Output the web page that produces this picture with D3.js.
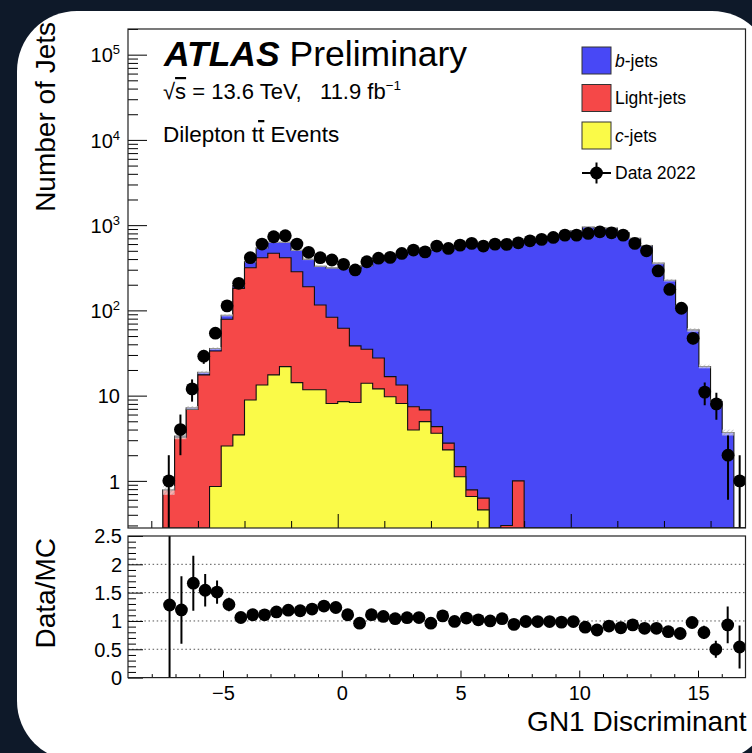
<!DOCTYPE html>
<html>
<head>
<meta charset="utf-8">
<script src="https://cdn.jsdelivr.net/npm/d3@7"></script>
<style>
  html, body { margin: 0; padding: 0; background: #0e1929; }
  svg { display: block; }
  text { font-family: "Liberation Sans", Arial, Helvetica, sans-serif; fill: #000; }
</style>
</head>
<body>
<svg id="chart" width="752" height="753"></svg>
<script>
// ---- Histogram content: 0.5-wide bins of the GN1 discriminant ----
const binCenters = [-7.25,-6.75,-6.25,-5.75,-5.25,-4.75,-4.25,-3.75,-3.25,-2.75,
  -2.25,-1.75,-1.25,-0.75,-0.25,0.25,0.75,1.25,1.75,2.25,
  2.75,3.25,3.75,4.25,4.75,5.25,5.75,6.25,6.75,7.25,
  7.75,8.25,8.75,9.25,9.75,10.25,10.75,11.25,11.75,12.25,
  12.75,13.25,13.75,14.25,14.75,15.25,15.75,16.25,16.75,17.25];
const binWidth = 0.5;

// Simulated jets per flavour
const bJets = [0,0.1,0.3,1.3,2.4,8.9,15,57,126,163,
  216,224,207,213,232,251,272,300,352,386,
  427,474,499,517,535,553,598,567,576,633,
  626,662,688,733,772,858,952,919,924,821,
  702,575,358,226,109,59,22,8.6,3.7,0];
const lightJets = [0.78,3.25,6.9,17.5,32.5,76.1,177.5,308,402,450,
  393,270,178,104,75,53.2,30,21,15.6,7.0,
  5.2,3.44,1.84,0.71,0.46,0.35,0.13,0.17,0.2,0.3,
  1.0,0,0,0,0,0,0,0,0,0,
  0,0,0,0,0,0,0,0,0,0];
const cJets = [0,0,0,0,0.86,2.57,3.46,8.9,13.3,17.5,
  21.9,14.2,11.7,11.7,8.1,8.5,8.3,14.0,12.0,9.7,
  8.1,3.96,4.96,3.62,2.31,1.12,0.655,0.457,0,0,
  0,0,0,0,0,0,0,0,0,0,
  0,0,0,0,0,0,0,0,0,0];
// Relative statistical uncertainty of the total prediction
const mcRelUnc = [0.12,0.08,0.05,0.04,0.035,0.03,0.025,0.02,0.02,0.02,
  0.02,0.02,0.02,0.02,0.02,0.02,0.02,0.02,0.02,0.02,
  0.02,0.02,0.02,0.02,0.02,0.02,0.02,0.02,0.02,0.02,
  0.02,0.02,0.02,0.02,0.02,0.02,0.02,0.02,0.02,0.02,
  0.02,0.025,0.03,0.035,0.05,0.05,0.05,0.07,0.08,0];

// Data 2022
const dataCounts = [1,4,12,29,54,113,208,415,600,731,
  751,600,480,415,390,347,298,372,410,419,
  466,510,486,568,533,583,611,568,599,595,
  621,655,681,718,764,764,800,836,813,764,
  611,500,290,176,106,47,11,8,2,1];
const dataErrors = [1,2,3.5,5.4,7.3,10.6,14.4,20.4,24.5,27,
  27.4,24.5,21.9,20.4,19.7,18.6,17.3,19.3,20.2,20.5,
  21.6,22.6,22,23.8,23.1,24.1,24.7,23.8,24.5,24.4,
  24.9,25.6,26.1,26.8,27.6,27.6,28.3,28.9,28.5,27.6,
  24.7,22.4,17,13.3,10.3,6.9,3.3,2.8,1.4,1];

// Axis ticks and labels
const yDecades = [0, 1, 2, 3, 4, 5];
const ratioMajorTicks = [0, 0.5, 1, 1.5, 2, 2.5];
const ratioGridLines = [0.5, 1, 1.5, 2];
const xLabelTicks = [-5, 0, 5, 10, 15];
const legendNames = ["b-jets", "Light-jets", "c-jets", "Data 2022"];

// ---- Styling ----
const colB = "#4848f6", colLight = "#f54848", colC = "#fafa48";
const lineCol = "#111";
const font = '"Liberation Sans", Arial, Helvetica, sans-serif';

const svg = d3.select("#chart");

// white card
svg.append("rect").attr("x", 17).attr("y", 11).attr("width", 755).attr("height", 750)
  .attr("rx", 60).attr("fill", "#ffffff");

// panel geometry
const P = { left: 128, right: 745.5, top: 29, bottom: 528 };
const Q = { top: 536, bottom: 677.6 };

const xMain = d3.scaleLinear().domain([-9, 17.5]).range([P.left, P.right]);
const xRatio = d3.scaleLinear().domain([-9, 17]).range([P.left, P.right]);
const yMain = d3.scaleLog().domain([0.28, 2e5]).range([P.bottom, P.top]);
const yRatio = d3.scaleLinear().domain([0, 2.5]).range([Q.bottom, Q.top]);
const yMin = yMain.domain()[0], yMax = yMain.domain()[1];
const yv = v => yMain(Math.min(Math.max(v, yMin), yMax));

const defs = svg.append("defs");
defs.append("clipPath").attr("id", "clipMain").append("rect")
  .attr("x", P.left).attr("y", P.top).attr("width", P.right - P.left).attr("height", P.bottom - P.top);
defs.append("clipPath").attr("id", "clipRatio").append("rect")
  .attr("x", P.left).attr("y", Q.top).attr("width", P.right - P.left).attr("height", Q.bottom - Q.top);
const hatch = defs.append("pattern").attr("id", "mcHatch").attr("patternUnits", "userSpaceOnUse")
  .attr("width", 3).attr("height", 3).attr("patternTransform", "rotate(45)");
hatch.append("rect").attr("width", 3).attr("height", 3).attr("fill", "rgba(255,255,255,0.55)");
hatch.append("line").attr("x1", 0).attr("y1", 0).attr("x2", 0).attr("y2", 3)
  .attr("stroke", "#9a9a9a").attr("stroke-width", 1);

// ---- Stacked histograms ----
const rows = binCenters.map((x, i) => ({ x, c: cJets[i], light: lightJets[i], b: bJets[i] }));
const layers = d3.stack().keys(["c", "light", "b"])(rows);
const totals = layers[2].map(d => d[1]);

const loEdge = binCenters[0] - binWidth / 2;
const hiEdge = binCenters[binCenters.length - 1] + binWidth / 2;
function stepPoints(tops) {
  const pts = [[loEdge, 0]];
  tops.forEach((v, i) => {
    pts.push([binCenters[i] - binWidth / 2, v]);
    pts.push([binCenters[i] + binWidth / 2, v]);
  });
  pts.push([hiEdge, 0]);
  return pts;
}
const stepLine = d3.line().x(d => xMain(d[0])).y(d => yv(d[1]));

const gHist = svg.append("g").attr("clip-path", "url(#clipMain)");
// drawn from the outermost (total) to the innermost (c-jets)
[[layers[2], colB], [layers[1], colLight], [layers[0], colC]].forEach(([layer, col]) => {
  const pts = stepPoints(layer.map(d => d[1]));
  gHist.append("path").attr("d", stepLine(pts) + "Z").attr("fill", col).attr("stroke", "none");
  gHist.append("path").attr("d", stepLine(pts)).attr("fill", "none")
    .attr("stroke", lineCol).attr("stroke-width", 1.1);
});

// statistical uncertainty band on the total prediction
gHist.selectAll("rect.unc").data(totals.map((t, i) => ({ t, u: mcRelUnc[i], x: binCenters[i] }))
    .filter(d => d.t > 0 && d.u > 0))
  .join("rect").attr("class", "unc")
  .attr("x", d => xMain(d.x - binWidth / 2))
  .attr("width", d => xMain(d.x + binWidth / 2) - xMain(d.x - binWidth / 2))
  .attr("y", d => yv(d.t * (1 + d.u)))
  .attr("height", d => yv(d.t * (1 - d.u)) - yv(d.t * (1 + d.u)))
  .attr("fill", "url(#mcHatch)");

// data points
const points = binCenters.map((x, i) => ({ x, n: dataCounts[i], e: dataErrors[i], mc: totals[i] }))
  .filter(d => d.n > 0);
const gData = svg.append("g").attr("clip-path", "url(#clipMain)");
gData.selectAll("line").data(points).join("line")
  .attr("x1", d => xMain(d.x)).attr("x2", d => xMain(d.x))
  .attr("y1", d => yv(d.n + d.e)).attr("y2", d => yv(d.n - d.e))
  .attr("stroke", "#000").attr("stroke-width", 2);
gData.selectAll("circle").data(points).join("circle")
  .attr("cx", d => xMain(d.x)).attr("cy", d => yv(d.n)).attr("r", 6.4).attr("fill", "#000");

// ---- Ratio panel ----
const gRatio = svg.append("g").attr("clip-path", "url(#clipRatio)");
gRatio.selectAll("line.grid").data(ratioGridLines).join("line").attr("class", "grid")
  .attr("x1", P.left).attr("x2", P.right)
  .attr("y1", d => yRatio(d)).attr("y2", d => yRatio(d))
  .attr("stroke", "#555").attr("stroke-width", 1).attr("stroke-dasharray", "1.5 2.6");

const ratioPts = points.filter(d => d.mc > 0 && d.x < xRatio.domain()[1])
  .map(d => ({ x: d.x, r: d.n / d.mc, e: d.e / d.mc }));
gRatio.selectAll("line.err").data(ratioPts).join("line").attr("class", "err")
  .attr("x1", d => xRatio(d.x)).attr("x2", d => xRatio(d.x))
  .attr("y1", d => yRatio(d.r + d.e)).attr("y2", d => yRatio(Math.max(d.r - d.e, -0.1)))
  .attr("stroke", "#000").attr("stroke-width", 2);
gRatio.selectAll("circle").data(ratioPts).join("circle")
  .attr("cx", d => xRatio(d.x)).attr("cy", d => yRatio(d.r)).attr("r", 6.4).attr("fill", "#000");

// ---- Axes ----
function styleAxis(g, size) {
  g.select(".domain").remove();
  g.attr("font-family", font).attr("font-size", size);
  g.selectAll(".tick line").attr("stroke", "#000").attr("stroke-width", 1);
  g.selectAll(".tick text").attr("fill", "#000");
}

// main y (log)
const yMajor = yDecades.map(p => Math.pow(10, p));
const yMinor = [];
[-1, 0, 1, 2, 3, 4, 5].forEach(p => [2,3,4,5,6,7,8,9].forEach(m => {
  const v = m * Math.pow(10, p);
  if (v >= yMin && v <= yMax) yMinor.push(v);
}));
const gYMaj = svg.append("g").attr("transform", `translate(${P.left},0)`)
  .call(d3.axisLeft(yMain).tickValues(yMajor).tickSize(-19).tickPadding(8).tickFormat(""));
styleAxis(gYMaj, 20);
gYMaj.selectAll(".tick text").each(function(d) {
  const t = d3.select(this);
  const p = Math.round(Math.log10(d));
  t.attr("dy", "0.36em");
  if (p === 0) t.text("1");
  else if (p === 1) t.text("10");
  else {
    t.append("tspan").text("10");
    t.append("tspan").attr("dy", -8).attr("font-size", 13).text(p);
  }
});
const gYMin = svg.append("g").attr("transform", `translate(${P.left},0)`)
  .call(d3.axisLeft(yMain).tickValues(yMinor).tickSize(-10).tickFormat(""));
styleAxis(gYMin, 20);

// main x (no labels)
const xMainMajor = [0, 10];
const xMainMinor = [-8,-6,-4,-2,2,4,6,8,12,14,16];
svg.append("g").attr("transform", `translate(0,${P.bottom})`)
  .call(d3.axisBottom(xMain).tickValues(xMainMajor).tickSize(-14).tickFormat(""))
  .call(g => styleAxis(g, 20));
svg.append("g").attr("transform", `translate(0,${P.bottom})`)
  .call(d3.axisBottom(xMain).tickValues(xMainMinor).tickSize(-7).tickFormat(""))
  .call(g => styleAxis(g, 20));

// ratio y
const ratioMinor = d3.range(1, 25).map(k => k / 10).filter(v => Math.abs(v * 2 - Math.round(v * 2)) > 1e-6);
svg.append("g").attr("transform", `translate(${P.left},0)`)
  .call(d3.axisLeft(yRatio).tickValues(ratioMajorTicks).tickSize(-15).tickPadding(6)
    .tickFormat(d => String(d)))
  .call(g => styleAxis(g, 20))
  .call(g => g.selectAll(".tick text").attr("dy", "0.34em"));
svg.append("g").attr("transform", `translate(${P.left},0)`)
  .call(d3.axisLeft(yRatio).tickValues(ratioMinor).tickSize(-8).tickFormat(""))
  .call(g => styleAxis(g, 20));

// ratio x
const xRatioMinor = d3.range(-8, 17).filter(v => v % 5 !== 0);
svg.append("g").attr("transform", `translate(0,${Q.bottom})`)
  .call(d3.axisBottom(xRatio).tickValues(xLabelTicks).tickSize(-7).tickPadding(8)
    .tickFormat(d3.format("d")))
  .call(g => styleAxis(g, 20));
svg.append("g").attr("transform", `translate(0,${Q.bottom})`)
  .call(d3.axisBottom(xRatio).tickValues(xRatioMinor).tickSize(-3.5).tickFormat(""))
  .call(g => styleAxis(g, 20));

// frames
svg.append("rect").attr("x", P.left).attr("y", P.top)
  .attr("width", P.right - P.left).attr("height", P.bottom - P.top)
  .attr("fill", "none").attr("stroke", "#222").attr("stroke-width", 1.2);
svg.append("rect").attr("x", P.left).attr("y", Q.top)
  .attr("width", P.right - P.left).attr("height", Q.bottom - Q.top)
  .attr("fill", "none").attr("stroke", "#222").attr("stroke-width", 1.2);

// ---- Axis titles ----
svg.append("text").attr("transform", "translate(55,22) rotate(-90)")
  .attr("text-anchor", "end").attr("font-size", 28).text("Number of Jets");
svg.append("text").attr("transform", "translate(55,538) rotate(-90)")
  .attr("text-anchor", "end").attr("font-size", 28).text("Data/MC");
svg.append("text").attr("x", 746.5).attr("y", 731)
  .attr("text-anchor", "end").attr("font-size", 28).text("GN1 Discriminant");

// ---- Labels ----
const lab = svg.append("text").attr("x", 164).attr("y", 66).attr("font-size", 35.5);
lab.append("tspan").attr("font-weight", "bold").attr("font-style", "italic").text("ATLAS");
lab.append("tspan").text(" Preliminary");

const energy = svg.append("text").attr("x", 163).attr("y", 99).attr("font-size", 22)
  .style("white-space", "pre");
energy.append("tspan").text("\u221A");
energy.append("tspan").style("text-decoration", "overline").text("s");
energy.append("tspan").text(" = 13.6 TeV,   11.9 fb");
energy.append("tspan").attr("dy", -9).attr("font-size", 13.5).text("\u22121");

const evt = svg.append("text").attr("x", 163).attr("y", 142).attr("font-size", 22.5);
evt.append("tspan").text("Dilepton t");
evt.append("tspan").style("text-decoration", "overline").text("t");
evt.append("tspan").text(" Events");

// ---- Legend ----
const legendColors = [colB, colLight, colC];
const legX = 582, legW = 29, legH = 27, legY0 = 47, legStep = 37.5;
legendNames.forEach((name, i) => {
  const yTop = legY0 + i * legStep;
  const cy = yTop + legH / 2;
  if (i < legendColors.length) {
    svg.append("rect").attr("x", legX).attr("y", yTop).attr("width", legW).attr("height", legH)
      .attr("fill", legendColors[i]).attr("stroke", "#333").attr("stroke-width", 1);
  } else {
    svg.append("line").attr("x1", legX).attr("x2", legX + legW).attr("y1", cy).attr("y2", cy)
      .attr("stroke", "#000").attr("stroke-width", 2);
    svg.append("line").attr("x1", legX + legW / 2).attr("x2", legX + legW / 2)
      .attr("y1", cy - 10.5).attr("y2", cy + 10.5).attr("stroke", "#000").attr("stroke-width", 2);
    svg.append("circle").attr("cx", legX + legW / 2).attr("cy", cy).attr("r", 6.4).attr("fill", "#000");
  }
  const t = svg.append("text").attr("x", 615).attr("y", cy + 6.3).attr("font-size", 17.5);
  const m = name.match(/^([bc])(-jets)$/);
  if (m) {
    t.append("tspan").attr("font-style", "italic").text(m[1]);
    t.append("tspan").text(m[2]);
  } else {
    t.text(name);
  }
});
</script>
</body>
</html>
